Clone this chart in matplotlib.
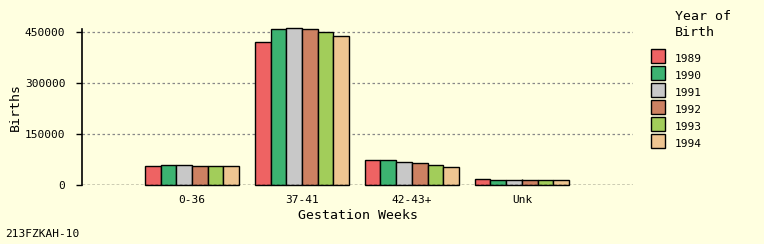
import matplotlib
matplotlib.use("Agg")
import matplotlib.pyplot as plt
import numpy as np
from matplotlib.patches import Rectangle

categories = ["0-36", "37-41", "42-43+", "Unk"]
years = ["1989", "1990", "1991", "1992", "1993", "1994"]
v1989 = [55000, 419700, 72600, 16700]
v1990 = [58800, 458000, 72600, 13800]
v1991 = [58800, 460800, 66700, 13800]
v1992 = [55000, 458000, 63800, 13800]
v1993 = [55000, 449000, 57900, 13800]
v1994 = [55000, 437000, 52000, 13800]
series = [v1989, v1990, v1991, v1992, v1993, v1994]
colors = ["#EE6363", "#3CB371", "#C8C8C8", "#CD8162", "#A2CD5A", "#EEC591"]
yticks = [0, 150000, 300000, 450000]

bg = "#FFFFE0"
font = "DejaVu Sans Mono"
plt.rcParams["font.family"] = [font, "DejaVu Sans"]

fig = plt.figure(figsize=(7.64, 2.44), dpi=100, facecolor=bg)
ax = fig.add_axes([82/764, 1-185/244, (633-82)/764, (185-29)/244])
ax.set_facecolor(bg)

x = np.arange(len(categories))
w = 0.143
for i, (vals, c) in enumerate(zip(series, colors)):
    ax.bar(x + (i - 2.5) * w, vals, width=w, color=c, edgecolor="black",
           linewidth=1, clip_on=False, zorder=3)

ax.set_xlim(-1, 4.01)
ax.set_ylim(0, 459000)
ax.set_yticks(yticks)
ax.set_yticklabels([str(v) for v in yticks], fontsize=8)
ax.set_xticks(x)
ax.set_xticklabels(categories, fontsize=8)
ax.tick_params(axis="y", length=4, width=1, pad=8)
ax.tick_params(axis="x", length=4, width=1, direction="in", pad=7)

for s in ["top", "right", "bottom"]:
    ax.spines[s].set_visible(False)
ax.spines["left"].set_linewidth(1.2)

for v in yticks[1:]:
    ax.axhline(v, color="#888888", linestyle=(0, (2, 2)), linewidth=0.9, zorder=1)
ax.axhline(0, color="black", linestyle=(0, (2, 1.5)), linewidth=1, zorder=4)

ax.set_ylabel("Births", fontsize=9.5, labelpad=2)
ax.set_xlabel("Gestation Weeks", fontsize=9.5, labelpad=3)

fig.text(5/764, 1-234/244, "213FZKAH-10", fontsize=8, va="center", ha="left")

# legend
fig.text(675/764, 1-16/244, "Year of", fontsize=9.5, va="center", ha="left")
fig.text(675/764, 1-33/244, "Birth", fontsize=9.5, va="center", ha="left")
for i, (yr, c) in enumerate(zip(years, colors)):
    ytop = 49 + i * 17
    fig.patches.append(Rectangle((651/764, 1-(ytop+14)/244), 14/764, 14/244,
                                 transform=fig.transFigure, facecolor=c,
                                 edgecolor="black", linewidth=1))
    fig.text(675/764, 1-(ytop+10)/244, yr, fontsize=8, va="center", ha="left")

fig.savefig("out.png", dpi=100, facecolor=bg)
